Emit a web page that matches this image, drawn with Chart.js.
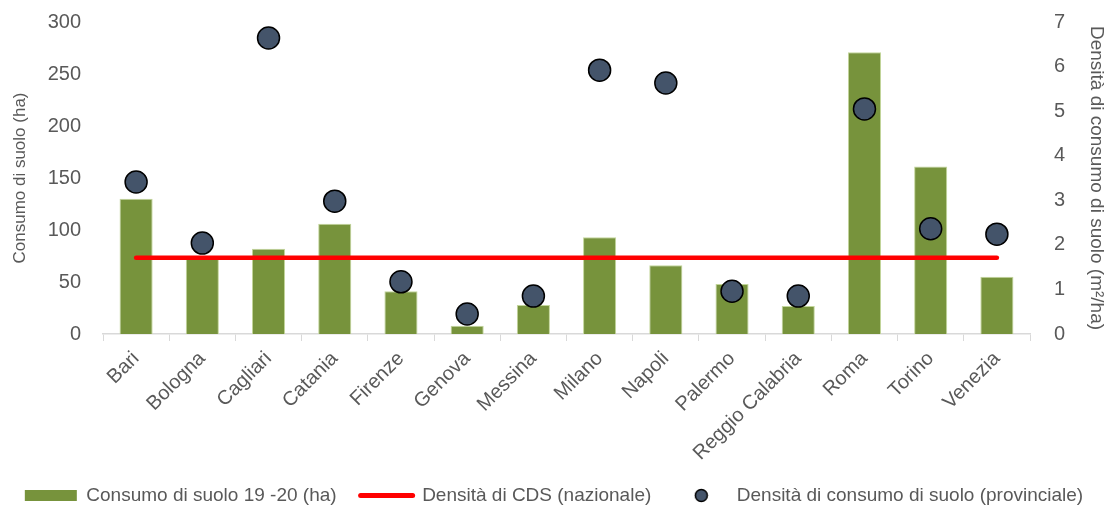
<!DOCTYPE html>
<html><head><meta charset="utf-8">
<script src="https://cdn.jsdelivr.net/npm/chart.js@4/dist/chart.umd.min.js"></script>
<style>html,body{margin:0;padding:0;background:#fff}#wrap{width:1108px;height:508px}</style>
</head><body><div id="wrap"><canvas id="c"></canvas></div>
<script>
const categories = ["Bari","Bologna","Cagliari","Catania","Firenze","Genova","Messina","Milano","Napoli","Palermo","Reggio Calabria","Roma","Torino","Venezia"];
const consumo = [130,75,82,106,41,8,28,93,66,48,27,271,161,55];
const densitaNazionale = [1.71,1.71,1.71,1.71,1.71,1.71,1.71,1.71,1.71,1.71,1.71,1.71,1.71,1.71];
const densitaProvinciale = [3.41,2.04,6.64,2.98,1.17,0.45,0.85,5.92,5.63,0.96,0.85,5.05,2.36,2.24];
const leftTicks = [0,50,100,150,200,250,300];
const rightTicks = [0,1,2,3,4,5,6,7];

const FONT = "'Liberation Sans',Arial,sans-serif";
Chart.defaults.font.family = FONT;
Chart.defaults.font.size = 20;
Chart.defaults.color = '#595959';

// small legend marker for the point series
const legendDot = document.createElement('canvas');
legendDot.width = 15; legendDot.height = 15;
(function(){ const g = legendDot.getContext('2d'); g.beginPath(); g.arc(7.5,7.5,6,0,Math.PI*2);
  g.fillStyle='#44546A'; g.fill(); g.lineWidth=1.5; g.strokeStyle='#000'; g.stroke(); })();

new Chart(document.getElementById('c'), {
  data: {
    labels: categories,
    datasets: [
      {type:'bar', label:'Consumo di suolo 19 -20 (ha)', data: consumo, yAxisID:'y',
       backgroundColor:'#77933C', borderColor:'#C3D69B', borderWidth:1,
       categoryPercentage:1, barPercentage:0.5, order:3},
      {type:'line', label:'Densità di CDS (nazionale)', data: densitaNazionale, yAxisID:'y1',
       borderColor:'#FF0000', borderWidth:4.5, pointRadius:0, borderCapStyle:'round', fill:false, order:2},
      {type:'line', label:'Densità di consumo di suolo (provinciale)', data: densitaProvinciale, yAxisID:'y1',
       showLine:false, pointRadius:11, pointHoverRadius:11, backgroundColor:'#44546A', borderColor:'#000', pointBorderWidth:1.5, order:1}
    ]
  },
  options: {
    responsive:true, maintainAspectRatio:false, animation:false,
    layout:{padding:{top:22,left:0,right:0,bottom:-7}},
    plugins:{
      tooltip:{enabled:false},
      legend:{position:'bottom', align:'center',
        labels:{font:{size:19,family:FONT}, color:'#595959', padding:24, usePointStyle:true, pointStyleWidth:52, boxWidth:52, boxHeight:11,
          generateLabels:(chart)=>{
            return [
              {text:'Consumo di suolo 19 -20 (ha)', fillStyle:'#77933C', strokeStyle:'#77933C', lineWidth:0, pointStyle:'rect', datasetIndex:0, fontColor:'#595959'},
              {text:'Densità di CDS (nazionale)', fillStyle:'#FF0000', strokeStyle:'#FF0000', lineWidth:5, lineCap:'round', pointStyle:'line', datasetIndex:1, fontColor:'#595959'},
              {text:'Densità di consumo di suolo (provinciale)', fillStyle:'#44546A', strokeStyle:'#000', lineWidth:1, pointStyle:legendDot, datasetIndex:2, fontColor:'#595959'}
            ];
          }}
      }
    },
    scales:{
      x:{
        offset:true,
        grid:{display:true, drawOnChartArea:false, drawTicks:true, tickLength:7, color:'#D9D9D9', offset:true},
        border:{display:true, color:'#D9D9D9', width:1.5},
        ticks:{minRotation:45, maxRotation:45, padding:6, font:{size:20}},
        afterFit:(s)=>{ s.height = 128; }
      },
      y:{
        position:'left', min:0, max:300,
        afterBuildTicks:(s)=>{ s.ticks = leftTicks.map(v=>({value:v})); },
        grid:{display:false}, border:{display:false},
        ticks:{padding:14, font:{size:20}},
        title:{display:true, text:'Consumo di suolo (ha)', font:{size:17}, padding:{top:10,bottom:0}},
        afterFit:(s)=>{ s.width = 103; s.paddingTop = 0; s.paddingBottom = 0; }
      },
      y1:{
        position:'right', min:0, max:7,
        afterBuildTicks:(s)=>{ s.ticks = rightTicks.map(v=>({value:v})); },
        grid:{display:false}, border:{display:false},
        ticks:{padding:16, font:{size:20}},
        title:{display:true, text:'Densità di consumo di suolo (m²/ha)', font:{size:19}, padding:{top:0,bottom:0}},
        afterFit:(s)=>{ s.width = 78; s.paddingTop = 0; s.paddingBottom = 0; }
      }
    }
  }
});
</script></body></html>
